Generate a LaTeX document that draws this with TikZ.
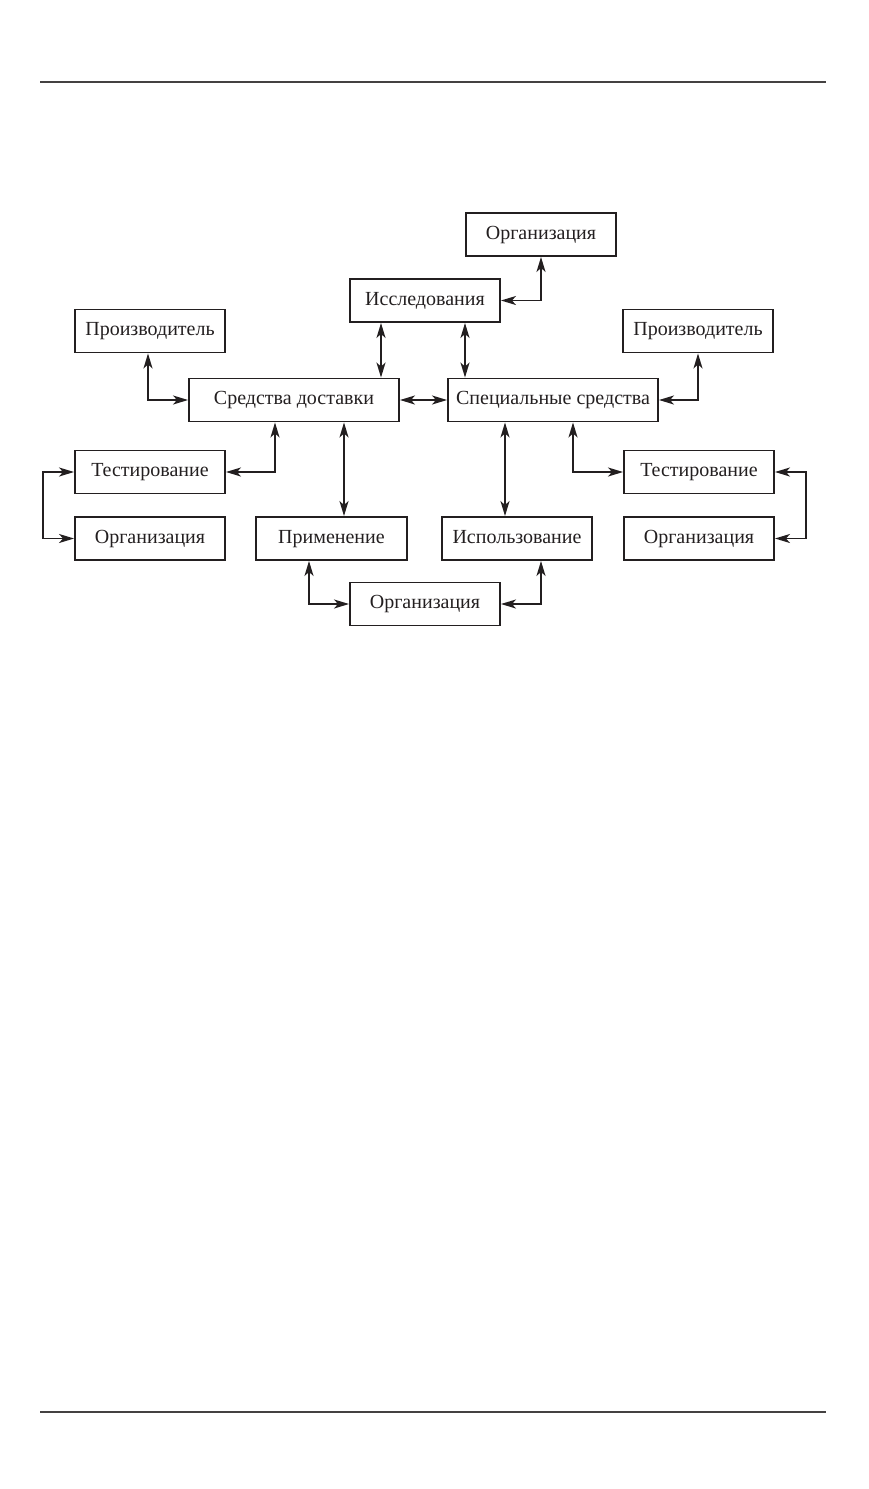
\documentclass[tikz,border=0pt]{standalone}
\usepackage{fontspec}
\setmainfont{Liberation Serif}
\usetikzlibrary{arrows.meta,calc}
\definecolor{ink}{HTML}{231F20}
\tikzset{
  box/.style={draw=ink, line width=1.9pt, minimum width=150pt, minimum height=43pt, inner sep=0pt,
    text height=13pt, text depth=4pt,
    text=ink, font=\fontsize{20pt}{22pt}\selectfont},
  wide/.style={box, minimum width=210pt},
  conn/.style={draw=ink, line width=1.7pt, {Stealth[length=15pt,width=9pt,inset=4pt]}-{Stealth[length=15pt,width=9pt,inset=4pt]}},
  rule/.style={draw=ink!85, line width=1.8pt}
}
\begin{document}
\begin{tikzpicture}[x=1pt,y=-1pt]
\useasboundingbox (0,0) rectangle (869,1489);
\coordinate (r1a) at (40,82); \coordinate (r1b) at (826,82);
\coordinate (r2a) at (40,1412); \coordinate (r2b) at (826,1412);
\draw[rule] (r1a) -- (r1b);
\draw[rule] (r2a) -- (r2b);

\node[box] (orgT) at (541,234.5) {Организация};
\node[box] (issl) at (425,300.5) {Исследования};
\node[box] (prL) at (150,331) {Производитель};
\node[box] (prR) at (698,331) {Производитель};
\node[wide] (sd) at (294,400) {Средства доставки};
\node[wide] (ss) at (553,400) {Специальные средства};
\node[box] (testL) at (150,472) {Тестирование};
\node[box] (testR) at (699,472) {Тестирование};
\node[box] (orgL) at (150,538.5) {Организация};
\node[box, minimum width=151pt] (prim) at (331.5,538.5) {Применение};
\node[box] (isp) at (517,538.5) {Использование};
\node[box] (orgR) at (699,538.5) {Организация};
\node[box] (orgB) at (425,604) {Организация};

\draw[conn] (issl.east) -| (orgT.south);
\draw[conn] ([xshift=-44pt]issl.south) coordinate (a1) -- (a1 |- sd.north);
\draw[conn] ([xshift=40pt]issl.south) coordinate (a2) -- (a2 |- ss.north);
\draw[conn] (sd.east) -- (ss.west);
\draw[conn] ([xshift=-2pt]prL.south) |- (sd.west);
\draw[conn] (prR.south) |- (ss.east);
\draw[conn] ([xshift=-19pt]sd.south) |- (testL.east);
\draw[conn] ([xshift=50pt]sd.south) coordinate (a3) -- (a3 |- prim.north);
\draw[conn] (testL.west) -- ++(-31,0) |- (orgL.west);
\draw[conn] ([xshift=-22.5pt]prim.south) |- (orgB.west);
\draw[conn] ([xshift=-48pt]ss.south) coordinate (a4) -- (a4 |- isp.north);
\draw[conn] ([xshift=20pt]ss.south) |- (testR.west);
\draw[conn] (testR.east) -- ++(31,0) |- (orgR.east);
\draw[conn] ([xshift=24pt]isp.south) |- (orgB.east);
\end{tikzpicture}
\end{document}
